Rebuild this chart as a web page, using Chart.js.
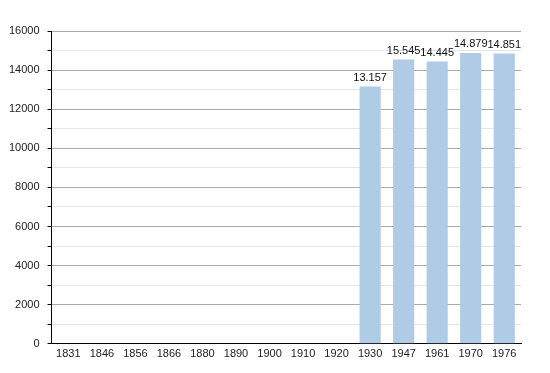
<!DOCTYPE html>
<html>
<head>
<meta charset="utf-8">
<script src="https://cdn.jsdelivr.net/npm/chart.js@4"></script>
<style>
    html, body { margin: 0; padding: 0; background: #fff; }
    #wrap { width: 550px; height: 373px; position: relative; }
</style>
</head>
<body>
<div id="wrap"><canvas id="myChart"></canvas></div>
<script>
/*-----------------------------Data-------------------------------------------------*/
let years = ['1831', '1846', '1856', '1866', '1880', '1890', '1900', '1910', '1920', '1930', '1947', '1961', '1970', '1976'];
let population = [null, null, null, null, null, null, null, null, null, 13157, 14545, 14445, 14879, 14851];
let valueLabels = ['', '', '', '', '', '', '', '', '', '13.157', '15.545', '14.445', '14.879', '14.851'];

/*-----------------------------Labels above bars-------------------------------------------------*/
let barLabels = {
    id: 'barLabels',
    afterDatasetsDraw(chart) {
        let ctx = chart.ctx;
        let meta = chart.getDatasetMeta(0);
        ctx.save();
        ctx.font = '11px "Liberation Sans", Arial, sans-serif';
        ctx.fillStyle = '#111';
        ctx.textAlign = 'center';
        ctx.textBaseline = 'bottom';
        meta.data.forEach(function (bar, i) {
            if (population[i] == null) return;
            ctx.fillText(valueLabels[i], bar.x, bar.y - 3);
        });
        ctx.restore();
    }
};

/*-----------------------------Chart-------------------------------------------------*/
let myChart = document.getElementById('myChart').getContext('2d');

let popChart = new Chart(myChart, {
    type: 'bar',
    data: {
        labels: years,
        datasets: [{
            data: population,
            backgroundColor: '#b0cbe5',
            borderWidth: 0,
            barPercentage: 0.63,
            categoryPercentage: 1
        }]
    },
    options: {
        responsive: true,
        maintainAspectRatio: false,
        animation: false,
        layout: {
            padding: { top: 31, right: 29, left: 1, bottom: 8 }
        },
        plugins: {
            legend: { display: false },
            tooltip: { enabled: false }
        },
        scales: {
            x: {
                grid: { display: false, drawTicks: false },
                border: { color: '#000', width: 1 },
                ticks: {
                    color: '#222',
                    padding: 4,
                    maxRotation: 0,
                    autoSkip: false,
                    font: { family: '"Liberation Sans", Arial, sans-serif', size: 11 }
                }
            },
            y: {
                min: 0,
                max: 16000,
                grid: {
                    color: function (c) {
                        if (c.tick.value === 0) return 'rgba(0,0,0,0)';
                        return c.tick.value % 2000 === 0 ? '#aaaaaa' : '#e6e6e6';
                    },
                    tickColor: '#000',
                    tickLength: 4
                },
                border: { color: '#000', width: 1 },
                ticks: {
                    stepSize: 1000,
                    color: '#222',
                    padding: 8,
                    autoSkip: false,
                    font: { family: '"Liberation Sans", Arial, sans-serif', size: 11 },
                    callback: function (v) {
                        return v % 2000 === 0 ? v : '';
                    }
                }
            }
        }
    },
    plugins: [barLabels]
});
</script>
</body>
</html>
